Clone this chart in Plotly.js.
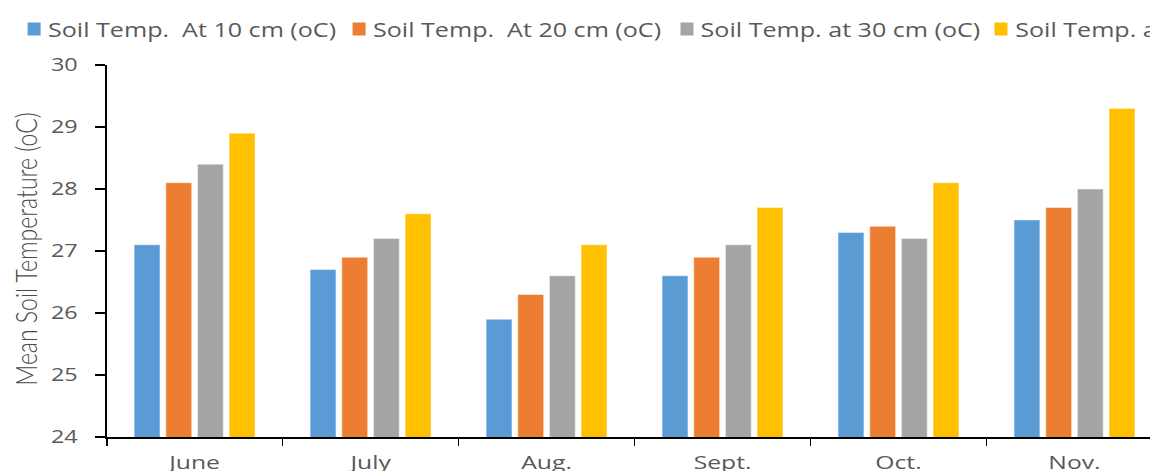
<!DOCTYPE html>
<html>
<head>
<meta charset="utf-8">
<script src="https://cdn.plot.ly/plotly-3.0.1.min.js"></script>
<style>
html, body { margin:0; padding:0; background:#fff; overflow:hidden; }
#wrap { width:1150px; height:471px; overflow:hidden; position:relative; }
#plot { width:1320px; height:500px; transform:scaleX(1.3); transform-origin:0 0; position:absolute; left:0; top:0; }
</style>
</head>
<body>
<div id="wrap"><div id="plot"></div></div>
<script>
// Data
const months = ["June", "July", "Aug.", "Sept.", "Oct.", "Nov."];
const seriesNames = [
  "Soil Temp.\u00a0 At 10 cm (oC)",
  "Soil Temp.\u00a0 At 20 cm (oC)",
  "Soil Temp. at 30 cm (oC)",
  "Soil Temp. at 40 cm (oC)"
];
const temp10 = [27.1, 26.7, 25.9, 26.6, 27.3, 27.5];
const temp20 = [28.1, 26.9, 26.3, 26.9, 27.4, 27.7];
const temp30 = [28.4, 27.2, 26.6, 27.1, 27.2, 28.0];
const temp40 = [28.9, 27.6, 27.1, 27.7, 28.1, 29.3];
const yTicks = [24, 25, 26, 27, 28, 29, 30];
const yTitle = "Mean Soil Temperature (oC)";

const colors = ["#5B9BD5", "#ED7D31", "#A5A5A5", "#FFC000"];
const values = [temp10, temp20, temp30, temp40];

const traces = values.map((v, i) => ({
  type: "bar",
  name: seriesNames[i],
  x: months,
  y: v,
  marker: { color: colors[i], line: { color: "rgba(255,255,255,0.45)", width: 1 } },
  hoverinfo: "skip"
}));

const K = 1.3;            // horizontal stretch of the page
const W = 1320, H = 500;  // plotly units (before the stretch)
const left = 106 / K;
const plotTop = 65, plotBottom = 437, plotH = plotBottom - plotTop;
const plotRightScreen = 1700;
const plotW = (plotRightScreen - 106) / K;
const catPx = 176;        // screen px per category

// screen px -> paper coords
const px = (sx) => (sx / K - left) / plotW;
const py = (sy) => (plotBottom - sy) / plotH;

// legend layout (screen px)
const legendSwatchX = [27, 352, 680, 994];
const swatchSize = 13, legendY = 29, textGap = 20;

const shapes = [], annotations = [];
seriesNames.forEach((name, i) => {
  const x0 = legendSwatchX[i];
  shapes.push({
    type: "rect", xref: "paper", yref: "paper",
    x0: px(x0), x1: px(x0 + swatchSize),
    y0: py(legendY + swatchSize / 2), y1: py(legendY - swatchSize / 2),
    fillcolor: colors[i], line: { width: 0 }
  });
  annotations.push({
    text: name, xref: "paper", yref: "paper",
    x: px(x0 + textGap - 1), y: py(legendY),
    xanchor: "left", yanchor: "middle", showarrow: false,
    borderpad: 0,
    font: { family: "Open Sans, sans-serif", size: 19.3, color: "#595959" }
  });
});
annotations.push({
  text: yTitle,
  xref: "paper", yref: "paper",
  x: px(25), y: py(249),
  xanchor: "center", yanchor: "middle",
  textangle: -90, showarrow: false,
  font: { family: "Lato, sans-serif", size: 23, weight: 300, color: "#4a4a4a" }
});

const layout = {
  width: W,
  height: H,
  paper_bgcolor: "#fff",
  plot_bgcolor: "#fff",
  margin: { l: left, r: W - left - plotW, t: plotTop, b: H - plotBottom, autoexpand: false },
  barmode: "group",
  bargap: 0.28,
  bargroupgap: 0.18,
  font: { family: "Open Sans, sans-serif", color: "#595959" },
  showlegend: false,
  xaxis: {
    type: "category",
    categoryorder: "array",
    categoryarray: months,
    range: [-0.5, -0.5 + (plotRightScreen - 106) / catPx],
    showline: true, linecolor: "#000", linewidth: 2,
    ticks: "outside", tickson: "boundaries", ticklen: 7, tickwidth: 1.4, tickcolor: "#000",
    tickfont: { family: "Open Sans, sans-serif", size: 19, color: "#595959" },
    ticklabelstandoff: 7,
    showgrid: false, zeroline: false,
    fixedrange: true
  },
  yaxis: {
    range: [24, 30],
    tickvals: yTicks,
    ticktext: yTicks.map(String),
    showline: true, linecolor: "#000", linewidth: 1.6,
    ticks: "outside", ticklen: 7, tickwidth: 2, tickcolor: "#000",
    tickfont: { family: "Open Sans, sans-serif", size: 18, color: "#595959" },
    ticklabelstandoff: 10,
    showgrid: false, zeroline: false,
    fixedrange: true
  },
  shapes: shapes,
  annotations: annotations
};

Plotly.newPlot("plot", traces, layout, { staticPlot: true, displayModeBar: false, responsive: false });
</script>
</body>
</html>
